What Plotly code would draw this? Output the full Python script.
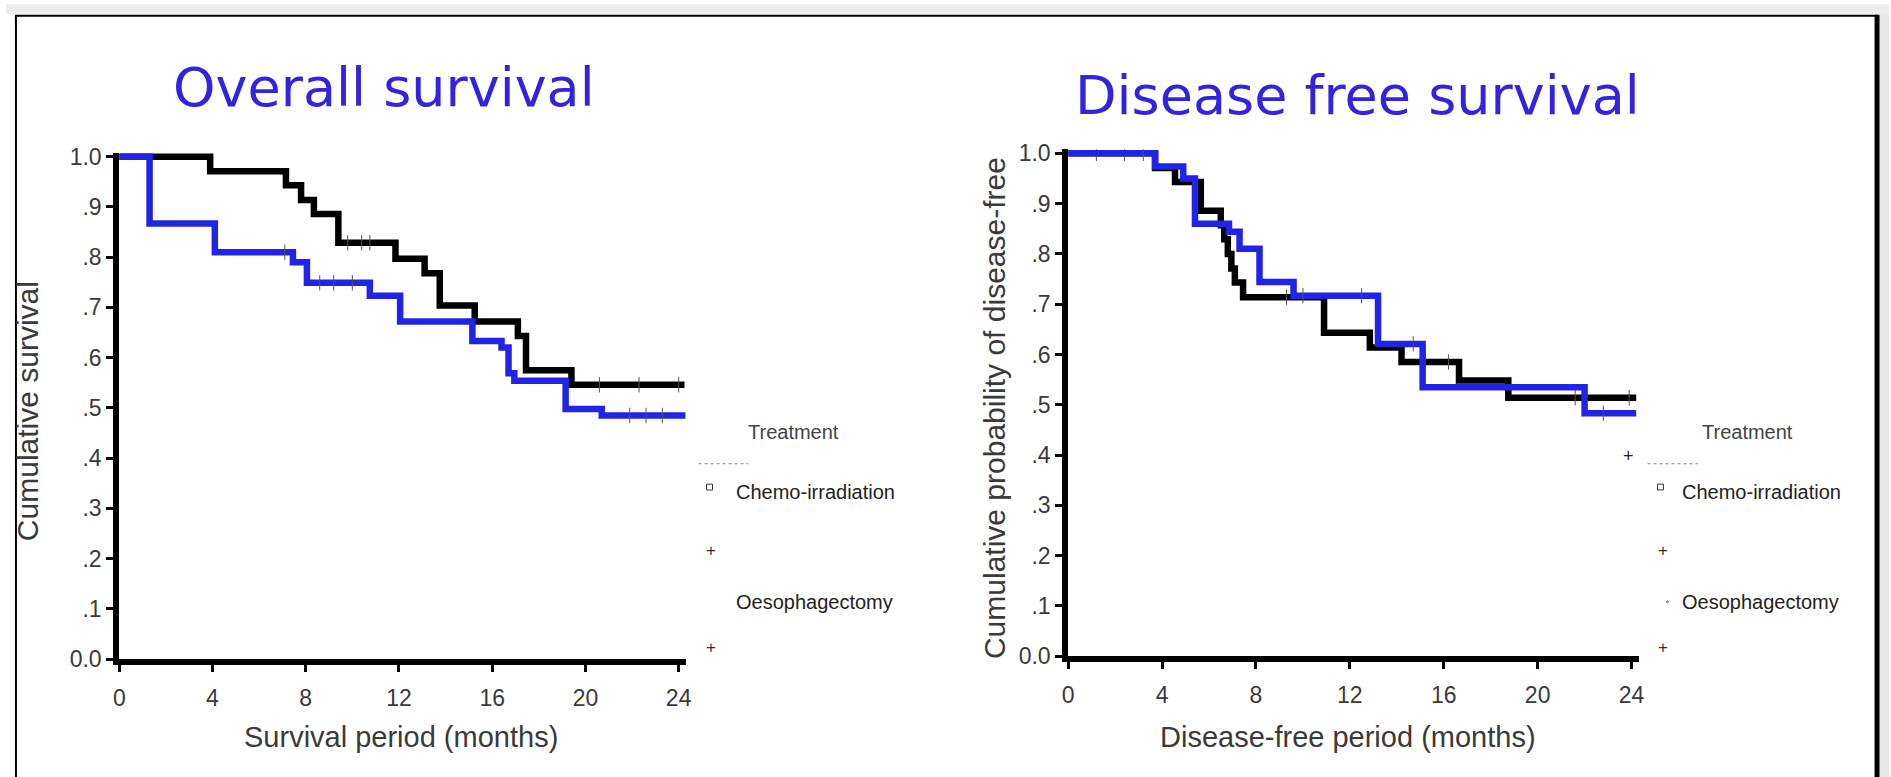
import plotly.graph_objects as go

# ---------------- data ----------------
os_chemo_t = [0, 3.9, 7.15, 7.8, 8.35, 9.4, 11.85, 13.1, 13.75, 15.25, 17.1, 17.45, 19.4, 24.25]
os_chemo_s = [1.0, 0.971, 0.943, 0.914, 0.886, 0.829, 0.797, 0.768, 0.704, 0.672, 0.643, 0.575, 0.546, 0.546]
os_chemo_cens_t = [9.8, 10.4, 10.75, 20.6, 22.3, 24.0]
os_chemo_cens_s = [0.829, 0.829, 0.829, 0.546, 0.546, 0.546]

os_oeso_t = [0, 1.3, 4.1, 7.45, 8.05, 10.75, 12.05, 15.15, 16.4, 16.7, 16.95, 19.15, 20.7, 24.3]
os_oeso_s = [1.0, 0.867, 0.81, 0.79, 0.749, 0.723, 0.672, 0.633, 0.62, 0.569, 0.554, 0.498, 0.485, 0.485]
os_oeso_cens_t = [7.1, 8.6, 9.2, 10.0, 21.9, 22.6, 23.3]
os_oeso_cens_s = [0.81, 0.749, 0.749, 0.749, 0.485, 0.485, 0.485]

dfs_chemo_t = [0, 3.7, 4.55, 5.65, 6.5, 6.65, 6.8, 6.95, 7.1, 7.45, 10.9, 12.85, 14.2, 16.65, 18.75, 24.2]
dfs_chemo_s = [1.0, 0.971, 0.943, 0.886, 0.857, 0.829, 0.8, 0.771, 0.743, 0.714, 0.643, 0.614, 0.585, 0.548, 0.514, 0.514]
dfs_chemo_cens_t = [1.2, 2.4, 9.3, 16.2, 21.6, 23.9]
dfs_chemo_cens_s = [1.0, 1.0, 0.714, 0.585, 0.514, 0.514]

dfs_oeso_t = [0, 3.7, 4.9, 5.4, 6.85, 7.3, 8.15, 9.6, 13.2, 15.1, 22.0, 24.2]
dfs_oeso_s = [1.0, 0.974, 0.95, 0.86, 0.844, 0.81, 0.744, 0.717, 0.621, 0.535, 0.483, 0.483]
dfs_oeso_cens_t = [3.2, 10.0, 12.5, 14.7, 22.8]
dfs_oeso_cens_s = [1.0, 0.717, 0.717, 0.621, 0.483]

x_ticks = [0, 4, 8, 12, 16, 20, 24]
x_tick_text = ["0", "4", "8", "12", "16", "20", "24"]
y_ticks = [0.0, 0.1, 0.2, 0.3, 0.4, 0.5, 0.6, 0.7, 0.8, 0.9, 1.0]
y_tick_text = ["0.0", ".1", ".2", ".3", ".4", ".5", ".6", ".7", ".8", ".9", "1.0"]

titles = ["Overall survival", "Disease free survival"]
x_titles = ["Survival period (months)", "Disease-free period (months)"]
y_titles = ["Cumulative survival", "Cumulative probability of disease-free"]
groups = ["Chemo-irradiation", "Oesophagectomy"]
legend_title = "Treatment"

# ---------------- layout helpers ----------------
W, H = 1891, 777
def px(x):
    return x / W
def py(y):
    return 1 - y / H

BLACK = "#000000"
BLUE = "#2323e6"
TITLE_BLUE = "#3322e0"
TXT = "#3a3a3a"
TICKFONT = dict(family="Liberation Sans, Arial, sans-serif", size=23, color=TXT)

fig = go.Figure()

def add_km(t, s, ct, cs, color, xa, ya, name):
    fig.add_trace(go.Scatter(x=t, y=s, mode="lines", line=dict(color=color, width=6.5, shape="hv"),
                             xaxis=xa, yaxis=ya, name=name, showlegend=False, hoverinfo="skip"))
    fig.add_trace(go.Scatter(x=ct, y=cs, mode="markers",
                             marker=dict(symbol="line-ns", size=11, line=dict(color="#555555", width=1)),
                             xaxis=xa, yaxis=ya, name=name, showlegend=False, hoverinfo="skip"))

add_km(os_chemo_t, os_chemo_s, os_chemo_cens_t, os_chemo_cens_s, BLACK, "x", "y", groups[0])
add_km(os_oeso_t, os_oeso_s, os_oeso_cens_t, os_oeso_cens_s, BLUE, "x", "y", groups[1])
add_km(dfs_chemo_t, dfs_chemo_s, dfs_chemo_cens_t, dfs_chemo_cens_s, BLACK, "x2", "y2", groups[0])
add_km(dfs_oeso_t, dfs_oeso_s, dfs_oeso_cens_t, dfs_oeso_cens_s, BLUE, "x2", "y2", groups[1])

xcommon = dict(range=[0, 24.3], tickvals=x_ticks, ticktext=x_tick_text, showgrid=False, zeroline=False,
               showline=True, linewidth=6, linecolor=BLACK, ticks="outside", ticklen=7, tickwidth=3,
               tickcolor=BLACK, tickfont=TICKFONT, ticklabelstandoff=6, fixedrange=True)
ycommon = dict(range=[0, 1.008], tickvals=y_ticks, ticktext=y_tick_text, showgrid=False, zeroline=False,
               showline=True, linewidth=6, linecolor=BLACK, ticks="outside", ticklen=7, tickwidth=3,
               tickcolor=BLACK, tickfont=TICKFONT, fixedrange=True)

fig.update_layout(
    width=W, height=H,
    margin=dict(l=0, r=0, t=0, b=0),
    paper_bgcolor="white", plot_bgcolor="white",
    showlegend=False,
    xaxis=dict(domain=[px(114), px(684)], anchor="y", **xcommon),
    yaxis=dict(domain=[py(669), py(147.9)], anchor="x", **ycommon),
    xaxis2=dict(domain=[px(1069), px(1643)], anchor="y2", **xcommon),
    yaxis2=dict(domain=[py(666), py(144.4)], anchor="x2", **ycommon),
)

ann = []
def text(x, y, s, size, color=TXT, family="Liberation Sans, Arial, sans-serif", xanchor="center", angle=0):
    ann.append(dict(x=px(x), y=py(y), xref="paper", yref="paper", text=s, showarrow=False,
                    xanchor=xanchor, yanchor="middle", textangle=angle,
                    font=dict(family=family, size=size, color=color)))

# titles
text(380, 81, titles[0], 54, TITLE_BLUE, "DejaVu Sans, Verdana, sans-serif")
text(1360, 89, titles[1], 54, TITLE_BLUE, "DejaVu Sans, Verdana, sans-serif")
# axis titles
text(398, 749, x_titles[0], 29)
text(1351, 749, x_titles[1], 29)
text(21, 414, y_titles[0], 30, angle=-90)
text(995, 411, y_titles[1], 30, angle=-90)

# legends
for (lx, mx, tx) in [(745, 708, 733), (1705, 1666, 1685)]:
    text(lx, 435, legend_title, 20, "#444444", xanchor="left")
    text(tx, 497, groups[0], 20, "#222222", xanchor="left")
    text(tx, 610, groups[1], 20, "#222222", xanchor="left")
    text(mx + 2, 557, "+", 17, "#333333")
    text(mx + 2, 657, "+", 17, "#333333")
text(1633, 460, "+", 18, "#222222")

fig.update_layout(annotations=ann)

shapes = []
# legend dotted lines and square markers
for (x0, x1, sq) in [(697, 747, 708), (1652, 1703, 1665)]:
    shapes.append(dict(type="line", xref="paper", yref="paper", x0=px(x0), x1=px(x1), y0=py(468), y1=py(468),
                       line=dict(color="#888888", width=1, dash="dot")))
    shapes.append(dict(type="rect", xref="paper", yref="paper", x0=px(sq - 3), x1=px(sq + 3),
                       y0=py(495), y1=py(489), line=dict(color="#333333", width=1)))
shapes.append(dict(type="circle", xref="paper", yref="paper", x0=px(1671), x1=px(1673),
                   y0=py(611), y1=py(609), line=dict(color="#666666", width=1)))
# frame
shapes.append(dict(type="line", xref="paper", yref="paper", x0=px(10), x1=px(10), y0=py(7), y1=py(800),
                   line=dict(color=BLACK, width=2)))
shapes.append(dict(type="line", xref="paper", yref="paper", x0=px(9), x1=px(1884), y0=py(7), y1=py(7),
                   line=dict(color=BLACK, width=2)))
shapes.append(dict(type="line", xref="paper", yref="paper", x0=px(1883), x1=px(1883), y0=py(6), y1=py(800),
                   line=dict(color=BLACK, width=5)))
shapes.append(dict(type="rect", xref="paper", yref="paper", x0=px(1886), x1=px(1895), y0=py(0), y1=py(800),
                   line=dict(width=0), fillcolor="#e6e6e6"))
shapes.append(dict(type="rect", xref="paper", yref="paper", x0=px(0), x1=px(1895), y0=py(-5), y1=py(5),
                   line=dict(width=0), fillcolor="#ededed"))
fig.update_layout(shapes=shapes)

fig.write_html("out.html")
